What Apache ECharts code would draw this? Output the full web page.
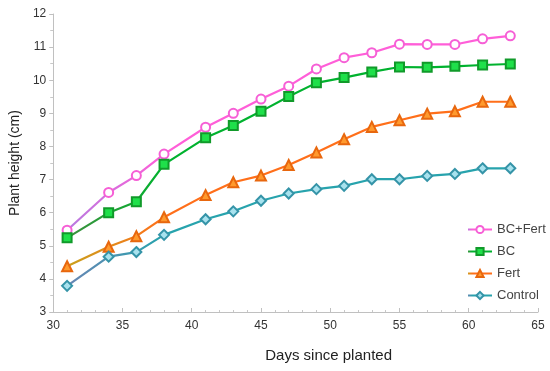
<!DOCTYPE html>
<html><head><meta charset="utf-8">
<script src="https://cdn.jsdelivr.net/npm/echarts@6/dist/echarts.min.js"></script>
<style>html,body{margin:0;padding:0;background:#fff}#c{width:550px;height:371px}</style>
</head><body><div id="c"></div>
<script>
var days = [31, 34, 36, 38, 41, 43, 45, 47, 49, 51, 53, 55, 57, 59, 61, 63];
var bcFert = [5.47, 6.61, 7.12, 7.77, 8.58, 9.0, 9.43, 9.82, 10.34, 10.68, 10.83, 11.09, 11.08, 11.08, 11.25, 11.34];
var bc = [5.24, 6.0, 6.33, 7.46, 8.26, 8.63, 9.06, 9.51, 9.92, 10.08, 10.25, 10.4, 10.39, 10.42, 10.46, 10.49];
var fert = [4.38, 4.97, 5.29, 5.86, 6.53, 6.92, 7.12, 7.44, 7.82, 8.22, 8.59, 8.79, 8.99, 9.06, 9.35, 9.35];
var control = [3.79, 4.67, 4.81, 5.33, 5.8, 6.04, 6.36, 6.58, 6.71, 6.81, 7.01, 7.01, 7.11, 7.17, 7.34, 7.34];
var xTicks = {min: 30, max: 65, interval: 5};
var yTicks = {min: 3, max: 12, interval: 1};

function pairs(v){ return days.map(function(d,i){ return [d, v[i]]; }); }
function grad(a, b){
  return new echarts.graphic.LinearGradient(0, 0, 1, 0, [
    {offset: 0, color: a}, {offset: 0.22, color: b}, {offset: 1, color: b}]);
}
var font = '"Liberation Sans", Arial, sans-serif';
function mk(name, data, lineA, lineB, sym, size, fill, border){
  return {
    name: name, type: 'line', data: pairs(data), symbol: sym, symbolSize: size,
    showSymbol: true,
    lineStyle: {width: 2.2, color: grad(lineA, lineB)},
    itemStyle: {color: fill, borderColor: border, borderWidth: 2},
    emphasis: {disabled: true}, z: 3
  };
}
var chart = echarts.init(document.getElementById('c'), null, {renderer: 'canvas'});
chart.setOption({
  animation: false,
  backgroundColor: '#fff',
  grid: {left: 50, right: 12, top: 14, bottom: 59},
  legend: {
    orient: 'vertical', left: 462, top: 218, itemGap: 9, itemWidth: 24, itemHeight: 9,
    textStyle: {fontFamily: font, fontSize: 13, color: '#444'},
    data: ['BC+Fert', 'BC', 'Fert', 'Control']
  },
  xAxis: {
    type: 'value', min: xTicks.min, max: xTicks.max, interval: xTicks.interval,
    name: 'Days since planted', nameLocation: 'middle', nameGap: 36,
    nameTextStyle: {fontFamily: font, fontSize: 15, color: '#222', padding: [0, 0, 0, 66]},
    axisLine: {show: true, lineStyle: {color: '#c0c0c0', width: 1}},
    axisTick: {show: true, inside: true, length: 4, lineStyle: {color: '#c0c0c0'}},
    minorTick: {show: true, splitNumber: 5, length: 2, lineStyle: {color: '#c8c8c8'}},
    splitLine: {show: false},
    axisLabel: {fontFamily: font, fontSize: 12, color: '#333', margin: 8}
  },
  yAxis: {
    type: 'value', min: yTicks.min, max: yTicks.max, interval: yTicks.interval,
    name: 'Plant height (cm)', nameLocation: 'middle', nameGap: 26, nameRotate: 90,
    nameTextStyle: {fontFamily: font, fontSize: 14, color: '#222'},
    axisLine: {show: true, lineStyle: {color: '#c0c0c0', width: 1}},
    axisTick: {show: true, length: 4, lineStyle: {color: '#c0c0c0'}},
    minorTick: {show: true, splitNumber: 2, length: 3, lineStyle: {color: '#c8c8c8'}},
    splitLine: {show: false},
    axisLabel: {fontFamily: font, fontSize: 12, color: '#333', margin: 7}
  },
  series: [
    mk('BC+Fert', bcFert, '#b57be0', '#ff5ed8', 'circle', 9, '#ffffff', '#f65fd6'),
    mk('BC', bc, '#3f8f3f', '#00b22e', 'rect', 9, '#1fe04a', '#119a2a'),
    mk('Fert', fert, '#c8a21c', '#ff6f1a', 'triangle', 10, '#ff9a2e', '#e8670e'),
    mk('Control', control, '#6a84b4', '#27a3ad', 'diamond', 10, '#a8e2ee', '#3594a8')
  ]
});
</script></body></html>
